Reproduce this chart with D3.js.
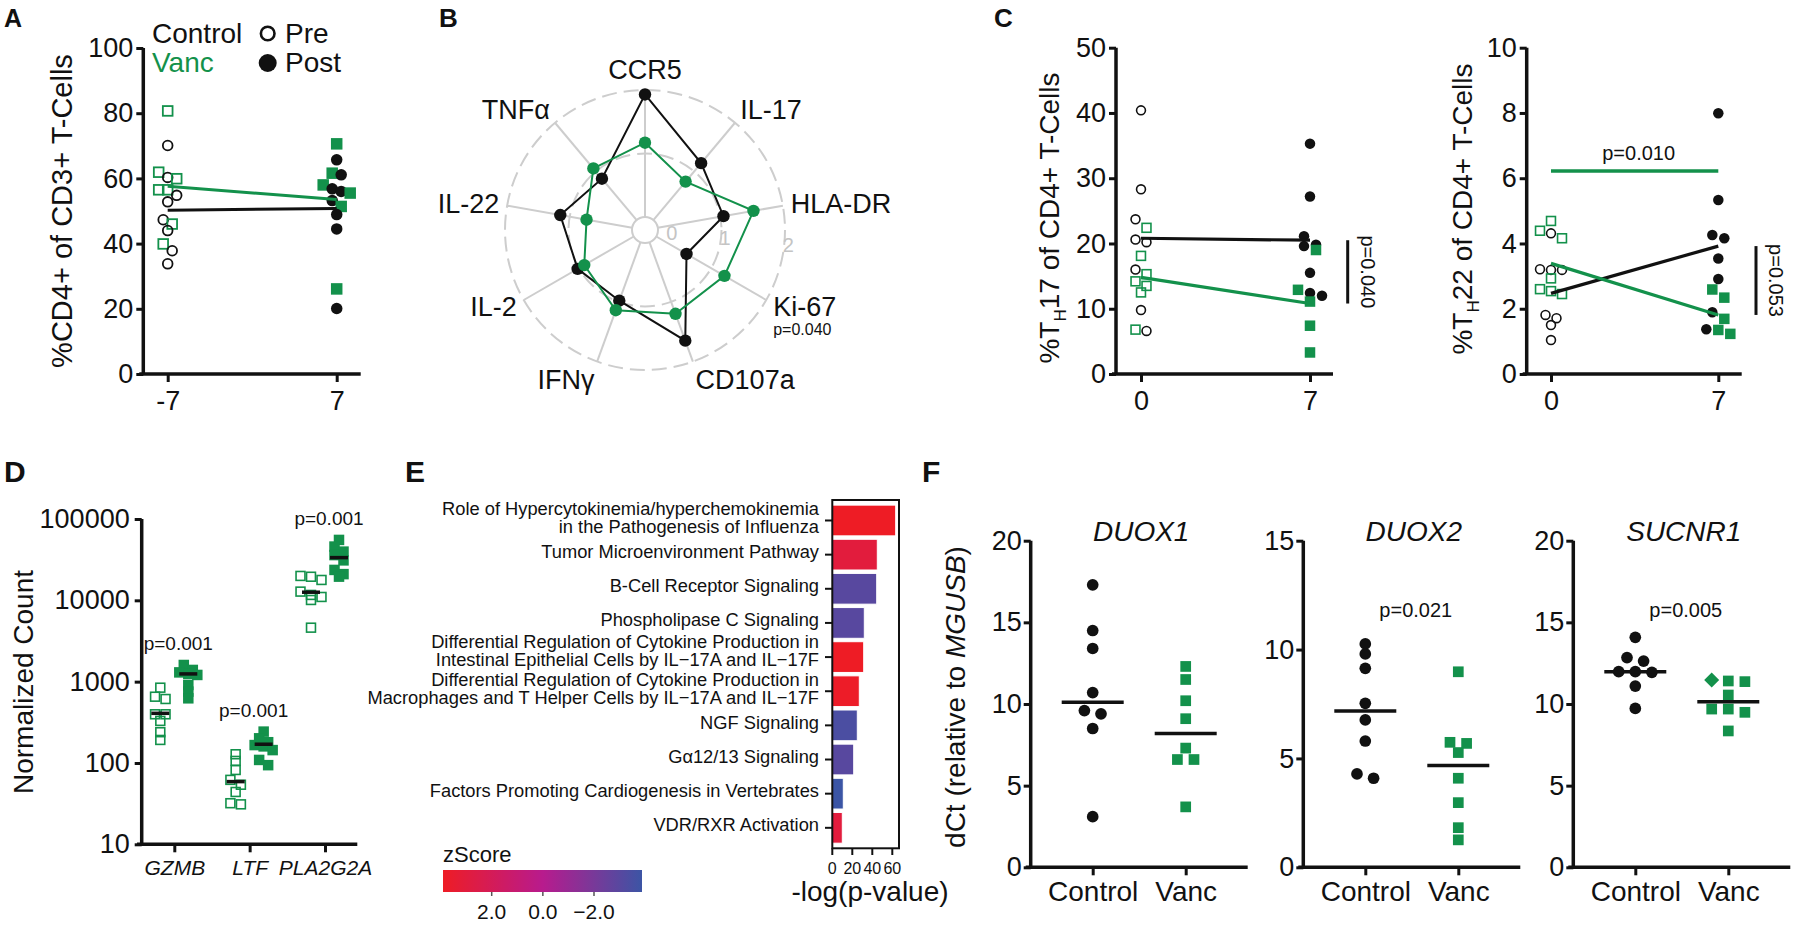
<!DOCTYPE html>
<html><head><meta charset="utf-8">
<script src="https://cdn.jsdelivr.net/npm/d3@7"></script>
<style>
body{margin:0;background:#fff;}
text{font-family:"Liberation Sans",Arial,Helvetica,sans-serif;fill:#111;}
</style></head><body>
<svg id="fig" width="1798" height="925" xmlns="http://www.w3.org/2000/svg"></svg>
<script>
// ================= DATA =================
// Panel A
const aDays = [-7, 7];
const aYTicks = [0, 20, 40, 60, 80, 100];
const aControlPre = [70.1, 60.3, 54.8, 52.8, 47.3, 44.0, 37.8, 33.8];
const aVancPre = [80.7, 61.9, 59.9, 56.5, 56.5, 46.0, 39.9];
const aControlPost = [65.7, 61.1, 56.8, 56.0, 53.2, 48.9, 44.5, 20.1];
const aVancPost = [70.6, 61.6, 58.0, 55.5, 51.4, 26.1];
const aControlMean = [50.2, 50.8];
const aVancMean = [57.6, 53.5];
// Panel B
const bAxes = ["CCR5", "IL-17", "HLA-DR", "Ki-67", "CD107a", "IFNγ", "IL-2", "IL-22", "TNFα"];
const bControl = [1.93, 1.17, 1.05, 0.55, 1.65, 0.98, 1.02, 1.15, 0.85];
const bVanc = [1.17, 0.79, 1.53, 1.24, 1.20, 1.14, 0.90, 0.73, 1.06];
const bRings = [0, 1, 2];
const bPvalue = "p=0.040";
// Panel C
const cDays = [0, 7];
const c17YTicks = [0, 10, 20, 30, 40, 50];
const c17ControlPre = [40.4, 28.3, 23.7, 20.6, 20.2, 16.0, 9.8, 6.6];
const c17VancPre = [22.4, 18.1, 15.3, 14.2, 13.5, 12.5, 6.8];
const c17ControlPost = [35.3, 27.2, 21.1, 19.8, 19.6, 15.5, 12.4, 12.0];
const c17VancPost = [19.0, 12.9, 11.1, 7.4, 3.3];
const c17ControlMean = [20.8, 20.5];
const c17VancMean = [14.8, 10.8];
const c17P = "p=0.040";
const c22YTicks = [0, 2, 4, 6, 8, 10];
const c22ControlPre = [4.31, 3.19, 3.19, 3.21, 1.81, 1.71, 1.50, 1.04];
const c22VancPre = [4.69, 4.39, 4.16, 2.93, 2.60, 2.54, 2.45];
const c22ControlPost = [7.99, 5.33, 4.26, 4.16, 3.54, 2.91, 1.89, 1.37];
const c22VancPost = [2.59, 2.34, 1.69, 1.35, 1.23];
const c22ControlMean = [2.47, 3.92];
const c22VancMean = [3.39, 1.81];
const c22P = "p=0.053";
const c22VancBar = 6.22;
const c22VancP = "p=0.010";
// Panel D
const dGenes = ["GZMB", "LTF", "PLA2G2A"];
const dYTicks = [10, 100, 1000, 10000, 100000];
const dControl = [
  [843, 653, 612, 397, 397, 329, 239, 192],
  [128, 106, 82, 62, 54, 44, 32, 31],
  [19950, 19500, 17800, 12800, 11650, 11000, 10100, 4610]
];
const dVanc = [
  [1603, 1393, 1300, 1245, 1209, 910, 754, 624],
  [243, 201, 180, 166, 160, 144, 109, 94],
  [55300, 45800, 39700, 36000, 31000, 23650, 21000, 19550]
];
const dControlMedian = [408, 59, 12580];
const dVancMedian = [1245, 170, 33500];
const dP = ["p=0.001", "p=0.001", "p=0.001"];
// Panel E
const ePathways = [
  "Role of Hypercytokinemia/hyperchemokinemia\nin the Pathogenesis of Influenza",
  "Tumor Microenvironment Pathway",
  "B-Cell Receptor Signaling",
  "Phospholipase C Signaling",
  "Differential Regulation of Cytokine Production in\nIntestinal Epithelial Cells by IL\u221217A and IL\u221217F",
  "Differential Regulation of Cytokine Production in\nMacrophages and T Helper Cells by IL\u221217A and IL\u221217F",
  "NGF Signaling",
  "G\u03b112/13 Signaling",
  "Factors Promoting Cardiogenesis in Vertebrates",
  "VDR/RXR Activation"
];
const eLogP = [63.4, 45.0, 44.4, 32.0, 31.4, 27.0, 25.0, 21.4, 11.0, 10.0];
const eZScore = [3.9, 3.0, -3.0, -3.0, 3.9, 3.8, -3.4, -3.0, -3.9, 3.0];
const eXTicks = [0, 20, 40, 60];
const eZTicks = [2, 0, -2];
// Panel F
const fGenes = ["DUOX1", "DUOX2", "SUCNR1"];
const fGroups = ["Control", "Vanc"];
const fYMax = [20, 15, 20];
const fYTicks = [[0, 5, 10, 15, 20], [0, 5, 10, 15], [0, 5, 10, 15, 20]];
const fControl = [
  [17.3, 14.5, 13.4, 10.7, 9.6, 9.4, 8.5, 3.1],
  [10.26, 9.80, 9.14, 7.53, 6.77, 5.80, 4.29, 4.09],
  [14.08, 12.84, 12.63, 11.98, 11.98, 11.94, 11.10, 9.73]
];
const fVanc = [
  [12.3, 11.5, 10.2, 9.1, 7.3, 6.6, 6.6, 3.7],
  [8.98, 5.74, 5.69, 5.27, 4.09, 2.97, 1.82, 1.26],
  [11.47, 11.41, 11.37, 10.55, 9.69, 9.49, 9.69, 8.35]
];
const fVancShapes = [
  ["square", "square", "square", "square", "square", "square", "square", "square"],
  ["square", "square", "square", "square", "square", "square", "square", "square"],
  ["diamond", "square", "square", "square", "square", "square", "square", "square"]
];
const fControlMedian = [10.1, 7.18, 11.98];
const fVancMedian = [8.2, 4.67, 10.14];
const fP = ["", "p=0.021", "p=0.005"];

// ================= DRAWING =================
const svg = d3.select("#fig");
const GREEN = "#13914B", INK = "#111";
const FONT = '"Liberation Sans", Arial, Helvetica, sans-serif';
const AXW = 3.5;

function panelLabel(t, x, y, fs) {
  svg.append("text").attr("x", x).attr("y", y).attr("font-size", fs)
    .attr("font-weight", "bold").text(t);
}
panelLabel("A", 4, 27, 25); panelLabel("B", 439, 27, 26); panelLabel("C", 994, 27, 26);
panelLabel("D", 4, 482, 30); panelLabel("E", 405, 482, 30); panelLabel("F", 922, 482, 30);

function styleAxisG(ax, fs, italic) {
  ax.select(".domain").remove();
  ax.selectAll(".tick line").attr("stroke", INK).attr("stroke-width", 3);
  ax.selectAll(".tick text").attr("font-size", fs).attr("fill", INK)
    .attr("font-family", FONT).attr("font-style", italic ? "italic" : null);
}
function prismFrame(g, x, y, o) {
  const base = y.range()[0], top = y.range()[1];
  const ya = g.append("g").attr("transform", `translate(${o.axisX},0)`)
    .call(d3.axisLeft(y).tickValues(o.yTicks).tickSize(7).tickPadding(o.yPad || 3)
      .tickFormat(o.yFormat || (d => String(d))));
  styleAxisG(ya, o.fs);
  let xa = d3.axisBottom(x).tickSize(8).tickPadding(o.xPad);
  if (o.xTicks) xa = xa.tickValues(o.xTicks).tickFormat(d => String(d));
  const xg = g.append("g").attr("transform", `translate(0,${base})`).call(xa);
  styleAxisG(xg, o.xfs || o.fs, o.italicX);
  g.append("line").attr("x1", o.axisX).attr("x2", o.axisX).attr("y1", top).attr("y2", base)
    .attr("stroke", INK).attr("stroke-width", AXW);
  g.append("line").attr("x1", o.xLeft).attr("x2", o.xRight).attr("y1", base).attr("y2", base)
    .attr("stroke", INK).attr("stroke-width", AXW);
}
function swarm(items, yOf, cx, thr, step) {
  const pts = items.map(d => Object.assign({}, d, { y: yOf(d.v) })).sort((a, b) => a.y - b.y);
  const rows = [];
  pts.forEach(p => {
    const row = rows[rows.length - 1];
    if (row && p.y - row[0].y < thr) row.push(p); else rows.push([p]);
  });
  rows.forEach(row => row.forEach((p, j) => { p.x = cx + (j - (row.length - 1) / 2) * step; }));
  return pts;
}
function marker(g, p, size, color, shape, filled, sw) {
  sw = sw || 1.8;
  const s = filled ? size : size - sw;
  let el;
  if (shape === "circle") {
    el = g.append("circle").attr("cx", p.x).attr("cy", p.y).attr("r", s / 2);
  } else if (shape === "square") {
    el = g.append("rect").attr("x", p.x - s / 2).attr("y", p.y - s / 2).attr("width", s).attr("height", s);
  } else {
    const h = s * 0.7;
    el = g.append("path").attr("d", `M${p.x},${p.y - h}L${p.x + h},${p.y}L${p.x},${p.y + h}L${p.x - h},${p.y}Z`);
  }
  if (filled) el.attr("fill", color).attr("stroke", "none");
  else el.attr("fill", "none").attr("stroke", color).attr("stroke-width", sw);
}
function rotText(g, x, y, angle, fs, parts) {
  const t = g.append("text").attr("transform", `translate(${x},${y}) rotate(${angle})`)
    .attr("text-anchor", "middle").attr("font-size", fs);
  parts.forEach(pt => {
    const ts = t.append("tspan").text(pt.t);
    if (pt.italic) ts.attr("font-style", "italic");
    if (pt.fs) ts.attr("font-size", pt.fs);
    if (pt.dy) ts.attr("dy", pt.dy);
  });
  return t;
}

// ---------- Panel A ----------
(function () {
  const g = svg.append("g");
  const x = d3.scaleLinear().domain(d3.extent(aDays)).range([167.7, 336.7]);
  const y = d3.scaleLinear().domain([0, 100]).range([374, 48]);
  prismFrame(g, x, y, { axisX: 143.3, xLeft: 139.3, xRight: 360.7, yTicks: aYTicks, xTicks: aDays, fs: 27, xPad: 9 });
  rotText(g, 72, 211, -90, 29, [{ t: "%CD4+ of CD3+ T-Cells" }]);
  const sz = 11.5;
  const pre = swarm(aControlPre.map(v => ({ v, s: "c" })).concat(aVancPre.map(v => ({ v, s: "v" }))),
    y, x(aDays[0]), 9, 9);
  const post = swarm(aControlPost.map(v => ({ v, s: "c" })).concat(aVancPost.map(v => ({ v, s: "v" }))),
    y, x(aDays[1]), 9, 9);
  pre.forEach(p => marker(g, p, sz, p.s === "c" ? INK : GREEN, p.s === "c" ? "circle" : "square", false));
  post.forEach(p => marker(g, p, sz, p.s === "c" ? INK : GREEN, p.s === "c" ? "circle" : "square", true));
  const ln = d3.line().x((d, i) => x(aDays[i])).y(d => y(d));
  g.append("path").attr("d", ln(aControlMean)).attr("stroke", INK).attr("stroke-width", 3).attr("fill", "none");
  g.append("path").attr("d", ln(aVancMean)).attr("stroke", GREEN).attr("stroke-width", 3).attr("fill", "none");
  // legend
  g.append("text").attr("x", 152).attr("y", 43).attr("font-size", 28).text("Control");
  g.append("text").attr("x", 152).attr("y", 72).attr("font-size", 28).style("fill", GREEN).text("Vanc");
  g.append("circle").attr("cx", 267.7).attr("cy", 33.5).attr("r", 6.8).attr("fill", "none").attr("stroke", INK).attr("stroke-width", 2.6);
  g.append("circle").attr("cx", 267.7).attr("cy", 63).attr("r", 9).attr("fill", INK);
  g.append("text").attr("x", 285).attr("y", 43).attr("font-size", 28).text("Pre");
  g.append("text").attr("x", 285).attr("y", 72).attr("font-size", 28).text("Post");
})();

// ---------- Panel B ----------
(function () {
  const g = svg.append("g").attr("transform", "translate(645,230)");
  const r = d3.scaleLinear().domain([0, 2]).range([13, 140]);
  const n = bAxes.length;
  const a = i => i * 2 * Math.PI / n;
  const GR = "#cdcdcd";
  bRings.filter(v => v > 0).forEach(v =>
    g.append("circle").attr("r", r(v)).attr("fill", "none").attr("stroke", GR)
      .attr("stroke-width", 2).attr("stroke-dasharray", "15,7"));
  bAxes.forEach((nm, i) => {
    g.append("line").attr("x1", r(0) * Math.sin(a(i))).attr("y1", -r(0) * Math.cos(a(i)))
      .attr("x2", r(2) * Math.sin(a(i))).attr("y2", -r(2) * Math.cos(a(i)))
      .attr("stroke", GR).attr("stroke-width", 2);
  });
  g.append("circle").attr("r", r(0)).attr("fill", "#fff").attr("stroke", GR).attr("stroke-width", 2);
  const la = 96 * Math.PI / 180;
  bRings.forEach(v => {
    const rr = Math.max(r(v) + 4, 27);
    g.append("text").attr("x", rr * Math.sin(la)).attr("y", -rr * Math.cos(la)).attr("dy", "0.35em")
      .attr("text-anchor", "middle").attr("font-size", 20).style("fill", "#c4c4c4").text(v);
  });
  const line = d3.lineRadial().angle((d, i) => a(i)).radius(d => r(d)).curve(d3.curveLinearClosed);
  [[bControl, INK], [bVanc, GREEN]].forEach(([vals, col]) => {
    g.append("path").attr("d", line(vals)).attr("fill", "none").attr("stroke", col).attr("stroke-width", 2);
    vals.forEach((v, i) => g.append("circle").attr("cx", r(v) * Math.sin(a(i)))
      .attr("cy", -r(v) * Math.cos(a(i))).attr("r", 6.2).attr("fill", col));
  });
  const R = 148;
  bAxes.forEach((nm, i) => {
    const s = Math.sin(a(i)), c = Math.cos(a(i));
    const anchor = s > 0.3 ? "start" : (s < -0.3 ? "end" : "middle");
    const tx = R * s, ty = -(R + 12 * Math.abs(c)) * c;
    g.append("text").attr("x", tx).attr("y", ty).attr("dy", "0.35em").attr("text-anchor", anchor)
      .attr("font-size", 27).text(nm);
    if (nm === "Ki-67") {
      g.append("text").attr("x", tx).attr("y", ty + 28).attr("font-size", 16).text(bPvalue);
    }
  });
})();

// ---------- Panel C ----------
function panelC(o) {
  const g = svg.append("g");
  const x = d3.scaleLinear().domain(d3.extent(cDays)).range([o.x0, o.x7]);
  const y = d3.scaleLinear().domain([0, d3.max(o.yTicks)]).range([374, 47.7]);
  prismFrame(g, x, y, { axisX: o.axisX, xLeft: o.axisX - 4, xRight: o.xRight, yTicks: o.yTicks, xTicks: cDays, fs: 27, xPad: 9 });
  rotText(g, o.titleX, o.titleY, -90, 28, [{ t: "%T" }, { t: "H", fs: 17, dy: 7 }, { t: o.num + " of CD4+ T-Cells", dy: -7 }]);
  const sz = 10.5;
  const pre = swarm(o.cPre.map(v => ({ v, s: "c" })).concat(o.vPre.map(v => ({ v, s: "v" }))), y, x(cDays[0]), 8.5, 11);
  const post = swarm(o.cPost.map(v => ({ v, s: "c" })).concat(o.vPost.map(v => ({ v, s: "v" }))), y, x(cDays[1]), 8.5, 12);
  pre.forEach(p => marker(g, p, sz, p.s === "c" ? INK : GREEN, p.s === "c" ? "circle" : "square", false, 1.6));
  post.forEach(p => marker(g, p, sz, p.s === "c" ? INK : GREEN, p.s === "c" ? "circle" : "square", true));
  const ln = d3.line().x((d, i) => x(cDays[i])).y(d => y(d));
  g.append("path").attr("d", ln(o.cMean)).attr("stroke", INK).attr("stroke-width", 3.2).attr("fill", "none");
  g.append("path").attr("d", ln(o.vMean)).attr("stroke", GREEN).attr("stroke-width", 3.2).attr("fill", "none");
  const bx = x(cDays[1]) + 37.7;
  const y1 = y(o.cMean[1]), y2 = y(o.vMean[1]);
  g.append("line").attr("x1", bx).attr("x2", bx).attr("y1", y1).attr("y2", y2).attr("stroke", INK).attr("stroke-width", 3);
  g.append("text").attr("transform", `translate(${bx + 13},${(y1 + y2) / 2}) rotate(90)`)
    .attr("text-anchor", "middle").attr("font-size", 20).text(o.p);
  if (o.bar != null) {
    g.append("line").attr("x1", x(cDays[0])).attr("x2", x(cDays[1])).attr("y1", y(o.bar)).attr("y2", y(o.bar))
      .attr("stroke", GREEN).attr("stroke-width", 3.5);
    g.append("text").attr("x", (x(cDays[0]) + x(cDays[1])) / 2 + 4).attr("y", y(o.bar) - 11)
      .attr("text-anchor", "middle").attr("font-size", 20).text(o.barP);
  }
}
panelC({ x0: 1141, x7: 1310, axisX: 1116, xRight: 1333, yTicks: c17YTicks, titleX: 1059, titleY: 218, num: "17",
  cPre: c17ControlPre, vPre: c17VancPre, cPost: c17ControlPost, vPost: c17VancPost,
  cMean: c17ControlMean, vMean: c17VancMean, p: c17P });
panelC({ x0: 1551, x7: 1718.3, axisX: 1526.7, xRight: 1741.7, yTicks: c22YTicks, titleX: 1472, titleY: 209, num: "22",
  cPre: c22ControlPre, vPre: c22VancPre, cPost: c22ControlPost, vPost: c22VancPost,
  cMean: c22ControlMean, vMean: c22VancMean, p: c22P, bar: c22VancBar, barP: c22VancP });

// ---------- Panel D ----------
(function () {
  const g = svg.append("g");
  const y = d3.scaleLog().domain([10, 100000]).range([844.3, 519]);
  const x = d3.scalePoint().domain(dGenes).range([174.3, 325]);
  prismFrame(g, x, y, { axisX: 141.7, xLeft: 137, xRight: 357.3, yTicks: dYTicks, yFormat: d3.format("d"), fs: 27, xfs: 21, xPad: 8, italicX: true, yPad: 5 });
  rotText(g, 33, 682, -90, 28, [{ t: "Normalized Count" }]);
  const off = 14, sz = 10.5;
  dGenes.forEach((gn, i) => {
    const pc = swarm(dControl[i].map(v => ({ v })), y, x(gn) - off, 6.5, 10.5);
    const pv = swarm(dVanc[i].map(v => ({ v })), y, x(gn) + off, 6.5, 9);
    pc.forEach(p => marker(g, p, sz, GREEN, "square", false, 1.6));
    pv.forEach(p => marker(g, p, sz, GREEN, "square", true));
    [[dControlMedian[i], -off], [dVancMedian[i], off]].forEach(([m, o]) =>
      g.append("line").attr("x1", x(gn) + o - 9).attr("x2", x(gn) + o + 9).attr("y1", y(m)).attr("y2", y(m))
        .attr("stroke", INK).attr("stroke-width", 3.5));
    g.append("text").attr("x", x(gn) + 4).attr("y", y(d3.max(dVanc[i])) - 15).attr("text-anchor", "middle")
      .attr("font-size", 19).text(dP[i]);
  });
})();

// ---------- Panel E ----------
(function () {
  const g = svg.append("g");
  const x = d3.scaleLinear().domain([0, 66.7]).range([832.3, 899]);
  const y = d3.scalePoint().domain(d3.range(ePathways.length)).range([500, 848.3]).padding(0.6);
  const col = d3.scaleLinear().domain([3.9, 0, -3.9]).range(["#EE1C25", "#B81B8D", "#3B55A5"]);
  const bh = y.step() * 0.9;
  g.selectAll("rect.bar").data(eLogP).join("rect").attr("class", "bar")
    .attr("x", x(0)).attr("y", (d, i) => y(i) - bh / 2).attr("width", d => x(d) - x(0)).attr("height", bh)
    .attr("fill", (d, i) => col(eZScore[i])).attr("stroke", "#fff").attr("stroke-width", 1);
  g.append("rect").attr("x", 832.3).attr("y", 500).attr("width", 899 - 832.3).attr("height", 348.3)
    .attr("fill", "none").attr("stroke", INK).attr("stroke-width", 2);
  // label layout: centre on tick, push upper label up when two-line labels crowd
  const LH = 18.3, MINGAP = 19.6;
  const labs = ePathways.map((nm, i) => ({ lines: nm.split("\n"), c: y(i) + 3.5 }));
  for (let i = labs.length - 2; i >= 0; i--) {
    const up = labs[i], dn = labs[i + 1];
    const upLast = up.c + (up.lines.length - 1) / 2 * LH;
    const dnFirst = dn.c - (dn.lines.length - 1) / 2 * LH;
    if (dnFirst - upLast < MINGAP) up.c -= MINGAP - (dnFirst - upLast);
  }
  labs.forEach((lb, i) => {
    g.append("line").attr("x1", 825).attr("x2", 832.3).attr("y1", y(i)).attr("y2", y(i)).attr("stroke", INK).attr("stroke-width", 2);
    const t = g.append("text").attr("text-anchor", "end").attr("font-size", 18.3);
    lb.lines.forEach((l, k) => {
      t.append("tspan").attr("x", 819).attr("y", lb.c + (k - (lb.lines.length - 1) / 2) * LH).text(l);
    });
  });
  eXTicks.forEach(v => {
    g.append("line").attr("x1", x(v)).attr("x2", x(v)).attr("y1", 848.3).attr("y2", 855).attr("stroke", INK).attr("stroke-width", 2);
    g.append("text").attr("x", x(v)).attr("y", 874).attr("text-anchor", "middle").attr("font-size", 16).text(v);
  });
  g.append("text").attr("x", 870).attr("y", 901).attr("text-anchor", "middle").attr("font-size", 28).text("-log(p-value)");
  // legend
  const lx = d3.scaleLinear().domain([2, -2]).range([491.7, 594]);
  const defs = svg.append("defs");
  const grad = defs.append("linearGradient").attr("id", "zgrad").attr("x1", "0%").attr("x2", "100%");
  const z0 = lx.invert(443), z1 = lx.invert(642);
  d3.range(11).forEach(k => {
    const z = z0 + (z1 - z0) * k / 10;
    grad.append("stop").attr("offset", (k * 10) + "%").attr("stop-color", col(z));
  });
  g.append("text").attr("x", 443).attr("y", 862).attr("font-size", 22).text("zScore");
  g.append("rect").attr("x", 443).attr("y", 870).attr("width", 199).attr("height", 22).attr("fill", "url(#zgrad)");
  eZTicks.forEach(v => {
    g.append("line").attr("x1", lx(v)).attr("x2", lx(v)).attr("y1", 892).attr("y2", 896).attr("stroke", "#555").attr("stroke-width", 1.5);
    g.append("text").attr("x", lx(v)).attr("y", 919).attr("text-anchor", "middle").attr("font-size", 21).text(d3.format(".1f")(v));
  });
})();

// ---------- Panel F ----------
(function () {
  const axX = [1030.7, 1303.3, 1573.3];
  const root = svg.append("g");
  rotText(root, 965, 697, -90, 28, [{ t: "dCt (relative to " }, { t: "MGUSB", italic: true }, { t: ")" }]);
  fGenes.forEach((gn, i) => {
    const g = root.append("g");
    const ax = axX[i];
    const y = d3.scaleLinear().domain([0, fYMax[i]]).range([867.3, 540.7]);
    const x = d3.scalePoint().domain(fGroups).range([ax + 62, ax + 155]);
    prismFrame(g, x, y, { axisX: ax, xLeft: ax - 5, xRight: ax + 217, yTicks: fYTicks[i], fs: 27, xfs: 28, xPad: 6, yPad: 2 });
    const mid = (x("Control") + x("Vanc")) / 2;
    g.append("text").attr("x", mid + 2).attr("y", 541).attr("text-anchor", "middle").attr("font-size", 28)
      .attr("font-style", "italic").text(gn);
    if (fP[i]) g.append("text").attr("x", mid + 4).attr("y", 617).attr("text-anchor", "middle").attr("font-size", 20).text(fP[i]);
    const pc = swarm(fControl[i].map(v => ({ v })), y, x("Control"), 10, 16.6);
    const pv = swarm(fVanc[i].map((v, k) => ({ v, sh: fVancShapes[i][k] })), y, x("Vanc"), 10, 16.6);
    pc.forEach(p => marker(g, p, 11.7, INK, "circle", true));
    pv.forEach(p => marker(g, p, 10.7, GREEN, p.sh, true));
    [[fControlMedian[i], "Control"], [fVancMedian[i], "Vanc"]].forEach(([m, grp]) =>
      g.append("line").attr("x1", x(grp) - 31).attr("x2", x(grp) + 31).attr("y1", y(m)).attr("y2", y(m))
        .attr("stroke", INK).attr("stroke-width", 3.5));
  });
})();
</script>
</body></html>
